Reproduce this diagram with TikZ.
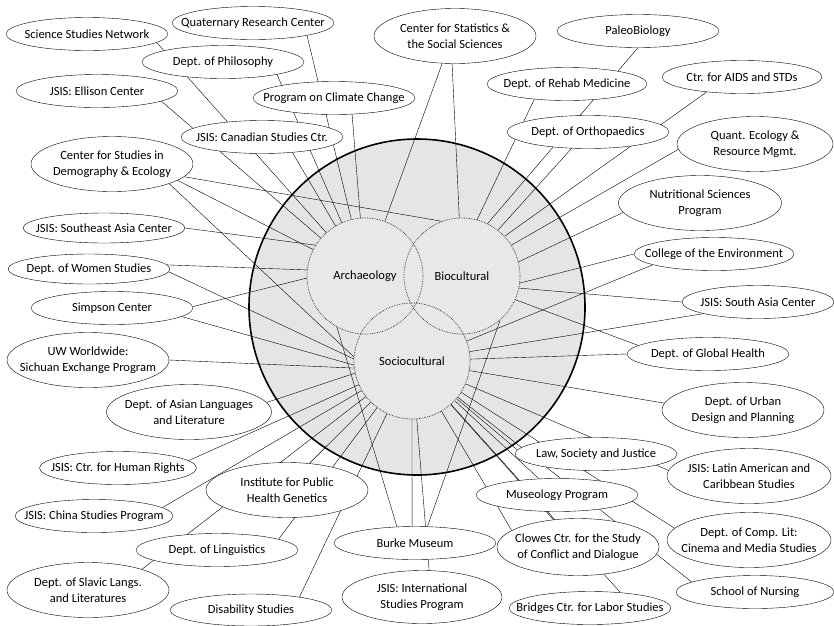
\documentclass[tikz,border=0pt]{standalone}
\usepackage{fontspec}
\setmainfont{Carlito}
\usetikzlibrary{shapes.geometric}
\pgfdeclarelayer{back}
\pgfdeclarelayer{links}
\pgfsetlayers{back,links,main}
\begin{document}
\begin{tikzpicture}[x=1pt,y=-1pt,font=\fontsize{12.5}{15.5}\selectfont,
    line width=.75pt,
    unit/.style={ellipse,draw,fill=white,inner xsep=-30pt,inner ysep=-5pt,
      align=center,minimum width=162pt,minimum height=33pt},
    tall/.style={unit,minimum height=55pt},
    area/.style={circle,fill=black!9,inner sep=0pt,minimum size=116pt},
    rim/.style={draw=black!85,densely dotted,line width=.7pt}]
  \useasboundingbox (0,0) rectangle (834,625);
  \begin{pgfonlayer}{back}
    \node[circle,draw,line width=1.6pt,fill=black!10,minimum size=336pt] (field) at (417,307) {};
  \end{pgfonlayer}
  % the three sub-fields
  \node[area] (A) at (365,276) {Archaeology};
  \node[area] (B) at (462,276) {Biocultural};
  \node[area] (S) at (412,361) {Sociocultural};
  \foreach \c in {A,B,S}{
    \draw[rim] (\c.center) circle[radius=58];
  }
  % units, clockwise from top left
  \node[unit] (ssn) at (87,34) {Science Studies Network};
  \node[unit] (qrc) at (253,23) {Quaternary Research Center};
  \node[unit] (phil) at (223,62) {Dept. of Philosophy};
  \node[unit] (ell) at (97,91) {JSIS: Ellison Center};
  \node[unit] (pcc) at (334,98) {Program on Climate Change};
  \node[unit] (can) at (262,137) {JSIS: Canadian Studies Ctr.};
  \node[tall] (cde) at (112,164) {Center for Studies in\\Demography \& Ecology};
  \node[tall] (css) at (455,36) {Center for Statistics \&\\the Social Sciences};
  \node[unit] (pal) at (638,31) {PaleoBiology};
  \node[unit,minimum width=160pt] (reh) at (567,84) {Dept. of Rehab Medicine};
  \node[unit,minimum width=160pt] (aids) at (742,77) {Ctr. for AIDS and STDs};
  \node[unit] (ort) at (588,132) {Dept. of Orthopaedics};
  \node[tall,minimum width=156pt] (qe) at (755,144) {Quant. Ecology \&\\Resource Mgmt.};
  \node[tall,minimum width=163pt] (nut) at (700,203) {Nutritional Sciences\\Program};
  \node[unit,minimum width=160pt] (coe) at (714,254) {College of the Environment};
  \node[unit,minimum width=152pt] (sac) at (758,302) {JSIS: South Asia Center};
  \node[unit] (gh) at (708,354) {Dept. of Global Health};
  \node[tall] (udp) at (743,410) {Dept. of Urban\\Design and Planning};
  \node[unit] (lsj) at (596,454) {Law, Society and Justice};
  \node[tall,minimum width=164pt] (lat) at (749,476) {JSIS: Latin American and\\Caribbean Studies};
  \node[unit] (mus) at (557,495) {Museology Program};
  \node[tall,minimum width=164pt] (cl) at (749,540) {Dept. of Comp. Lit:\\Cinema and Media Studies};
  \node[tall,minimum width=162pt,minimum height=57pt] (clo) at (578,547) {Clowes Ctr. for the Study\\of Conflict and Dialogue};
  \node[unit,minimum width=158pt] (nur) at (755,592) {School of Nursing};
  \node[unit] (bri) at (590,608) {Bridges Ctr. for Labor Studies};
  \node[unit] (bur) at (415,543) {Burke Museum};
  \node[tall,minimum width=160pt,minimum height=53pt] (isp) at (422,597) {JSIS: International\\Studies Program};
  \node[unit,minimum height=32pt] (dis) at (251,610) {Disability Studies};
  \node[tall] (sla) at (88,590) {Dept. of Slavic Langs.\\and Literatures};
  \node[unit] (lin) at (217,550) {Dept. of Linguistics};
  \node[unit,minimum width=158pt] (chi) at (94,516) {JSIS: China Studies Program};
  \node[tall] (iph) at (287,490) {Institute for Public\\Health Genetics};
  \node[unit,minimum width=157pt] (hr) at (118,468) {JSIS: Ctr. for Human Rights};
  \node[tall,minimum width=165pt] (asl) at (189,412) {Dept. of Asian Languages\\and Literature};
  \node[tall] (uw) at (88,360) {UW Worldwide:\\Sichuan Exchange Program};
  \node[unit] (sim) at (112,308) {Simpson Center};
  \node[unit,minimum height=30pt] (ws) at (89,269) {Dept. of Women Studies};
  \node[unit,minimum height=30pt] (sea) at (104,228) {JSIS: Southeast Asia Center};
  % affiliations
  \begin{pgfonlayer}{links}
    \foreach \a/\b in {ssn.-7/A, qrc.-13/A, phil.-13/A, ell.-9/A, pcc.-42/A,
        can.-27/A, css.-115/A, css.-96/B, cde.-10/B.110, cde.-14/A,
        cde.-19/S.176, sea.0/A.148, ws.3/A.174, ws.-2/S.178, sim.1/A.182,
        sim.-7/S.184, uw.0/S.187, asl.7/S.192, hr.6/S, chi.7/S, iph.50/S,
        lin.10/S, sla.21/S, dis.15/S, bur.138/A.241, bur.100/S, bur.53/B.311,
        isp.75/S, bri.27/S, clo.166/S, clo.132/S, mus.138/S, nur.171/S,
        cl.171/S, lat.176/S, lsj.177/S, udp.175/S, gh.180/S, gh.173/B.336,
        sac.192/S, sac.180/B.348, coe.190/S.20, coe.180/B.353, nut.187/B.14,
        qe.184/B.32, aids.203/B.43, ort.225/B.52, pal.-90/B.64, reh.205/B.75}{
      \draw (\a) -- (\b);
    }
  \end{pgfonlayer}
\end{tikzpicture}
\end{document}
